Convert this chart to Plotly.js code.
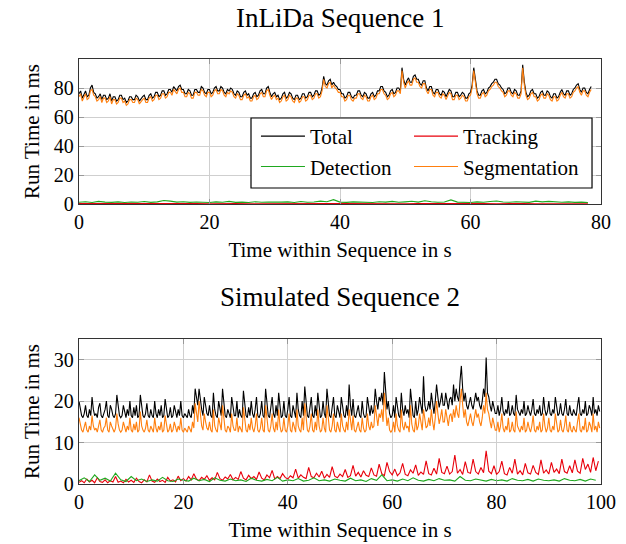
<!DOCTYPE html>
<html>
<head>
<meta charset="utf-8">
<script src="https://cdn.plot.ly/plotly-3.0.1.min.js"></script>
<style>html,body{margin:0;padding:0;background:#fff;}#chart{width:626px;height:544px;}</style>
</head>
<body>
<div id="chart"></div>
<script>
// ---------- Data: InLiDa Sequence 1 (top) ----------
const seq1Step = 0.25;   // s between samples of total / segmentation
const seq1Total = [
 76,78,73,75,78,74,75,80,82,77,76,73,74,76,72,75,75,72,73,76,
 71,74,74,71,72,75,75,72,73,70,71,74,74,72,72,75,74,71,73,74,
 75,72,72,75,76,73,74,77,77,74,75,78,78,75,76,79,79,77,81,79,
 78,81,82,79,79,76,76,79,78,75,75,79,79,77,77,81,80,77,76,79,
 79,76,77,80,81,78,78,81,80,77,76,79,78,80,79,76,75,78,77,74,
 74,77,78,75,76,73,73,76,77,74,75,78,79,76,76,80,81,77,74,76,
 77,74,75,72,73,76,77,73,74,77,76,73,72,75,75,72,73,76,76,73,
 74,77,77,74,75,78,78,75,76,80,88,83,82,85,86,82,84,82,81,79,
 79,76,76,73,74,77,77,74,73,75,75,78,78,75,74,77,76,73,73,76,
 77,74,75,78,78,81,81,78,77,74,75,78,79,76,77,80,80,78,94,86,
 82,85,87,84,84,88,89,86,86,83,82,85,85,80,78,81,81,77,76,79,
 79,76,75,78,77,74,76,79,78,74,74,77,77,74,75,77,76,73,73,76,
 77,82,94,84,78,75,75,78,79,76,77,80,81,83,84,86,86,83,82,80,
 79,76,77,80,80,77,76,79,78,75,75,78,96,84,77,74,75,78,79,76,
 76,73,74,77,78,75,75,78,77,74,73,76,76,73,74,77,79,76,75,78,
 78,75,76,79,80,82,83,79,77,80,80,77,76,79,81];
const seq1Segmentation = [
 74,76,71,73,76,72,73,78,79,75,74,71,72,74,70,73,73,70,71,74,
 69,72,72,69,70,73,73,70,71,68,69,72,72,70,70,73,72,69,71,72,
 73,70,70,73,74,71,72,75,75,72,73,76,76,73,74,77,77,75,79,77,
 76,79,80,77,77,74,74,77,76,73,73,77,77,75,75,79,78,75,74,77,
 77,74,75,78,79,76,76,79,78,75,74,77,76,78,77,74,73,76,75,72,
 72,75,76,73,74,71,71,74,75,72,73,76,77,74,74,78,79,75,72,74,
 75,72,73,70,71,74,75,71,72,75,74,71,70,73,73,70,71,74,74,71,
 72,75,75,72,73,76,76,73,74,78,86,81,80,83,84,80,82,80,79,77,
 77,74,74,71,72,75,75,72,71,73,73,76,76,73,72,75,74,71,71,74,
 75,72,73,76,76,79,79,76,75,72,73,76,77,74,75,78,78,76,92,84,
 80,83,85,82,82,86,87,84,84,81,80,83,83,78,76,79,79,75,74,77,
 77,74,73,76,75,72,74,77,76,72,72,75,75,72,73,75,74,71,71,74,
 75,80,92,82,76,73,73,76,77,74,75,78,79,81,82,84,84,81,80,78,
 77,74,75,78,78,75,74,77,76,73,73,76,94,82,75,72,73,76,77,74,
 74,71,72,75,76,73,73,76,75,72,71,74,74,71,72,75,77,74,73,76,
 76,73,74,77,78,80,81,77,75,78,78,75,74,77,79];
const seq1DetStep = 1;
const seq1Detection = [1.2,1.6,1.0,1.8,1.3,1.1,1.5,1.0,1.4,1.2,1.7,1.1,1.5,2.4,2.0,1.3,1.6,1.1,1.4,1.2,
 1.0,1.5,1.2,1.8,1.1,1.3,1.0,1.6,1.2,1.4,1.1,1.3,1.5,1.0,1.7,1.2,1.4,2.0,1.6,3.0,
 1.3,1.1,1.5,1.2,1.4,1.0,1.6,1.3,1.8,1.2,1.5,1.9,1.3,2.2,1.6,1.2,1.4,2.8,1.3,1.1,
 1.0,1.5,1.2,1.7,2.1,1.4,1.2,1.6,1.3,1.1,2.0,1.5,1.8,1.3,1.2,1.5,1.1,1.3,1.0];
const seq1TrkStep = 2;
const seq1Tracking = [0.3,0.2,0.4,0.3,0.2,0.3,0.4,0.2,0.3,0.3,0.2,0.4,0.3,0.2,0.3,0.4,0.3,0.2,0.3,0.4,
 0.3,0.2,0.3,0.3,0.4,0.2,0.3,0.4,0.3,0.2,0.3,0.3,0.2,0.4,0.3,0.2,0.3,0.4,0.3,0.2];

// ---------- Data: Simulated Sequence 2 (bottom) ----------
const seq2Step = 0.25;  // s between samples of total / segmentation
const seq2Total = [
 20,18,16.5,16,17,19,16.5,16,18,16.5,21,18,16.5,17,16,18.5,19.5,16.5,16,17,
 18,20,16.5,16,19,18,16.5,16,17,21.5,18.5,16.5,16,16.5,19,17,16,18,16.5,20,
 16.5,16,18.5,16.5,19,16,16.5,21.5,18,16.5,16,17,19.5,16.5,16,18,16.5,16,20,17,
 16,18,16.5,19,16,16.5,20.5,18,16,16.5,18.5,16,16.5,19,17,16,18,16.5,20,16.5,
 16,17,16.5,16,18,16.5,16,19,17,23,21,19,23,20,18,16.5,21,19,17,16.5,
 19,16.5,16,22,18,16.5,16,20,18.5,16.5,23,19,16.5,16,18,17,16,21,18,16.5,
 16.5,20,16,18,16.5,16,22.5,19,16.5,16,18.5,16.5,20,17,16,18,21,16.5,16,17,
 20,16.5,16,23,19,16.5,16,18,21,17,16,19,16.5,22,18,16,16.5,20,16.5,16,
 18,21,16.5,16,19,17,16,22,18,16.5,16,20,16.5,23.5,19,16.5,16,18,21,16.5,
 16,19,16.5,22,18,16,16.5,20,17,16,23,19,16.5,16,18,21,16.5,16,19,17,
 16,21,18,16.5,16,19,16.5,24,19,16.5,20.5,16.5,16,18,19,16.5,16,20,17,16,
 16.5,21,18,16.5,19,17,18,23,20,18,21,20,22,19,27,22,18,20,17,16,
 16.5,19,16,21,18,16.5,16,22,18,16.5,19,17,18,16,23,18.5,16.5,16,20,16.5,
 18,21,19,17,26,19,17.5,18,20,18,22,19,17,20,24,21,18.5,20,22,19,
 19,22,20,18,20.5,21,19,24,20,23,21,20,25,28.5,23,20,22,19,18,20,
 21,19,18,20,22,20,21,19,18,20,23,21,30.5,22,21,19,17.5,20,18,17,
 17,19,16.5,18,21,17.5,16.5,18,17,20,16.5,17,19,17,16.5,21.5,18,17,16.5,18,
 17,20,16.5,17,19,17.5,16.5,18,20.5,17,16.5,18,17,19,16.5,17,21,18,16.5,17.5,
 20,17,16.5,18,17,21,18,16.5,17,19.5,17,16.5,18,20.5,17,16.5,19,17,16.5,18,
 17,16.5,19,21,17,16.5,18,17,20,16.5,17,19,18,16.5,21,17,18,16.5,19,17.5];
const seq2Segmentation = [
 16,14,13,12.5,13.5,15,13,12.5,14,13,16.5,14,13,13.5,12.5,14.5,15.5,13,12.5,13.5,
 14,16,13,12.5,15,14,13,12.5,13.5,17,14.5,13,12.5,13,15,13.5,12.5,14,13,16,
 13,12.5,14.5,13,15,12.5,13,17.5,14,13,12.5,13.5,15.5,13,12.5,14,13,12.5,16,13.5,
 12.5,14,13,15,12.5,13,16.5,14,12.5,13,14.5,12.5,13,15,13.5,12.5,14,13,16,13,
 12.5,13.5,13,12.5,14,13,12.5,15,13.5,19.5,17,15,20,16,14,13,17,15,13.5,13,
 15,13,12.5,18,14,13,12.5,16,14.5,13,19,15,13,12.5,14,13.5,12.5,17,14,13,
 13,16,12.5,14,13,12.5,18.5,15,13,12.5,14.5,13,16,13.5,12.5,14,17,13,12.5,13.5,
 16,13,12.5,19,15,13,12.5,14,17,13.5,12.5,15,13,18,14,12.5,13,16,13,12.5,
 14,17,13,12.5,15,13.5,12.5,18,14,13,12.5,16,13,19.5,15,13,12.5,14,17,13,
 12.5,15,13,18,14,12.5,13,16,13.5,12.5,19,15,13,12.5,14,17,13,12.5,15,13.5,
 12.5,17,14,13,12.5,15,13,18,15,13,16.5,13,12.5,14,15,13,12.5,16,13.5,12.5,
 13,17,14,13,15,13.5,14,19,16,14,17,16,18,15,22,17,14,16,13,12.5,
 13,15,12.5,17,14,13,12.5,18,14,13,15,13.5,14,12.5,19,14.5,13,12.5,16,13,
 14,17,15,13,18,15,13.5,14,16,14,18,15,13,16,20,17,14.5,16,18,15,
 15,18,16,14,16.5,17,15,18,16,19,17,16,20,23,19,16,18,15,14,16,
 17,15,14,16,18,16,17,15,14,16,19,17,22,18,17,15,13.5,16,14,13,
 13,15,12.5,14,17,13.5,12.5,14,13,16,12.5,13,15,13,12.5,17.5,14,13,12.5,14,
 13,16,12.5,13,15,13.5,12.5,14,16.5,13,12.5,14,13,15,12.5,13,17,14,12.5,13.5,
 16,13,12.5,14,13,17,14,12.5,13,15.5,13,12.5,14,16.5,13,12.5,15,13,12.5,14,
 13,12.5,15,17,13,12.5,14,13,16,12.5,13,15,14,12.5,17,13,14,12.5,15,13.5];
const seq2TrkStep = 0.5;
const seq2Tracking = [0.4,0.8,0.3,1.2,0.5,0.9,0.3,1.5,0.6,0.4,1.0,0.3,0.8,0.5,1.8,0.4,0.7,0.3,1.1,0.5,
 0.9,0.4,1.4,0.6,0.3,1.0,0.5,2.2,0.7,0.4,1.2,0.6,0.9,0.4,1.6,0.7,1.0,0.5,1.9,0.8,
 1.3,0.7,1.8,1.0,2.5,1.2,0.8,1.6,1.1,2.0,0.9,1.5,1.0,2.8,1.3,0.9,1.7,1.2,2.3,1.0,
 1.6,1.1,3.0,1.4,1.0,2.1,1.3,1.8,1.1,2.9,1.4,1.0,2.2,1.5,3.3,1.2,1.8,1.3,2.5,1.6,
 1.2,2.0,1.5,3.6,1.4,2.2,1.6,1.3,4.0,1.8,1.5,2.6,1.7,3.1,1.4,2.3,1.6,4.2,1.9,1.5,
 2.4,1.8,3.5,1.6,2.0,4.5,1.9,2.8,1.7,3.2,2.1,1.8,3.9,2.2,1.9,4.8,2.5,2.0,5.2,3.0,
 2.2,3.6,2.0,2.7,5.0,2.3,2.0,3.4,2.6,4.6,2.1,2.9,2.3,5.6,2.5,2.2,3.8,2.4,6.2,2.8,
 2.5,4.3,2.4,3.0,7.0,2.6,3.5,2.3,5.4,2.8,2.6,6.0,3.0,2.4,4.0,2.7,8.0,3.1,2.5,4.4,
 2.3,3.0,5.5,2.5,2.2,4.0,2.6,6.0,2.4,3.2,2.2,5.0,2.7,2.4,4.5,2.8,2.3,5.8,2.6,3.4,
 2.4,5.2,2.8,3.6,2.5,6.0,3.0,2.6,4.4,2.7,5.8,3.1,2.6,6.2,3.5,4.8,2.8,6.4,3.2,5.5];
const seq2DetStep = 1;
const seq2Detection = [0.8,1.5,0.6,2.2,0.9,1.4,0.7,2.6,1.0,0.6,1.8,0.8,1.2,0.6,1.0,0.7,1.6,0.8,0.6,1.2,
 0.9,0.7,1.4,0.8,1.1,0.6,1.5,0.9,0.7,1.2,0.8,1.0,0.6,1.4,0.9,0.7,1.1,0.8,1.6,0.7,
 1.0,0.8,1.3,0.7,0.9,1.5,0.8,1.0,0.7,1.2,0.9,0.7,1.4,0.8,1.0,0.6,1.3,0.9,2.2,0.8,
 1.0,0.7,1.2,0.8,1.5,0.9,0.7,1.1,0.8,1.3,0.9,1.0,0.7,1.8,0.9,0.8,1.2,1.0,0.7,1.1,
 0.8,1.0,0.7,1.3,0.9,0.8,1.1,0.7,1.2,0.9,0.8,1.0,0.7,1.3,0.9,0.8,1.1,0.7,1.2,0.9];

const seriesNames = ['Total','Tracking','Detection','Segmentation'];
const titles = ['InLiDa Sequence 1','Simulated Sequence 2'];
const xTitle = 'Time within Sequence in s';
const yTitle = 'Run Time in ms';
const seq1YTicks = [0,20,40,60,80];
const seq2YTicks = [0,10,20,30];
const xTicks = [0,20,40,60,80,100];

// ---------- helpers ----------
const times = (arr, step) => arr.map((_, i) => i * step);
const colors = {Total:'#000000', Tracking:'#e8000b', Detection:'#1fa81f', Segmentation:'#ff7f0e'};
const FONT = '"Liberation Serif", "Times New Roman", serif';

function trace(name, x, y, xa, ya, show, leg) {
  return {type:'scatter', mode:'lines', name:name, x:x, y:y, xaxis:xa, yaxis:ya,
          showlegend:show, legend:leg,
          line:{color:colors[name], width:1.1}, hoverinfo:'skip'};
}

// left legend column: Total, Detection ; right column: Tracking, Segmentation
const data = [
  trace('Total', times(seq1Total, seq1Step), seq1Total, 'x', 'y', true, 'legend'),
  trace('Tracking', times(seq1Tracking, seq1TrkStep), seq1Tracking, 'x', 'y', true, 'legend2'),
  trace('Detection', times(seq1Detection, seq1DetStep), seq1Detection, 'x', 'y', true, 'legend'),
  trace('Segmentation', times(seq1Segmentation, seq1Step), seq1Segmentation, 'x', 'y', true, 'legend2'),
  trace('Total', times(seq2Total, seq2Step), seq2Total, 'x2', 'y2', false, 'legend'),
  trace('Tracking', times(seq2Tracking, seq2TrkStep), seq2Tracking, 'x2', 'y2', false, 'legend2'),
  trace('Detection', times(seq2Detection, seq2DetStep), seq2Detection, 'x2', 'y2', false, 'legend'),
  trace('Segmentation', times(seq2Segmentation, seq2Step), seq2Segmentation, 'x2', 'y2', false, 'legend2')
];

const axBase = {
  showline:true, linecolor:'#333', linewidth:1.2, mirror:'ticks',
  ticks:'inside', ticklen:5, tickcolor:'#999', tickwidth:1,
  showgrid:true, gridcolor:'#cfcfcf', gridwidth:1, zeroline:false,
  tickfont:{family:FONT, size:20, color:'#000'}, automargin:false
};
const axTitleFont = {family:FONT, size:21, color:'#000'};

const legBase = {orientation:'v', xanchor:'left', yanchor:'middle', y:0.7824,
  bgcolor:'rgba(0,0,0,0)', borderwidth:0, itemwidth:44, tracegroupgap:0,
  font:{family:FONT, size:21, color:'#000'}, traceorder:'normal'};

const layout = {
  width:626, height:544,
  paper_bgcolor:'#fff', plot_bgcolor:'#fff',
  margin:{l:79, r:25, t:59, b:60, autoexpand:false},
  font:{family:FONT, color:'#000'},
  showlegend:true,
  xaxis: Object.assign({}, axBase, {domain:[0,1], anchor:'y', range:[0,80], tickvals:xTicks.slice(0,5),
     title:{text:xTitle, font:axTitleFont, standoff:10}}),
  yaxis: Object.assign({}, axBase, {domain:[0.6588,1], anchor:'x', range:[0,100], tickvals:seq1YTicks,
     title:{text:yTitle, font:axTitleFont, standoff:8}}),
  xaxis2: Object.assign({}, axBase, {domain:[0,1], anchor:'y2', range:[0,100], tickvals:xTicks,
     title:{text:xTitle, font:axTitleFont, standoff:10}}),
  yaxis2: Object.assign({}, axBase, {domain:[0,0.3412], anchor:'x2', range:[0,35], tickvals:seq2YTicks,
     title:{text:yTitle, font:axTitleFont, standoff:8}}),
  legend: Object.assign({}, legBase, {x:0.339}),
  legend2: Object.assign({}, legBase, {x:0.6322}),
  shapes:[
    {type:'rect', xref:'paper', yref:'paper', x0:0.3295, x1:0.9828, y0:0.6965, y1:0.8612,
     fillcolor:'#fff', line:{color:'#000', width:1.2}, layer:'above'}
  ],
  annotations:[
    {text:titles[0], xref:'paper', yref:'paper', x:0.5, y:1.0965, xanchor:'center', yanchor:'middle',
     showarrow:false, font:{family:FONT, size:27, color:'#000'}},
    {text:titles[1], xref:'paper', yref:'paper', x:0.5, y:0.44, xanchor:'center', yanchor:'middle',
     showarrow:false, font:{family:FONT, size:27, color:'#000'}}
  ]
};

Plotly.newPlot('chart', data, layout, {staticPlot:true, displayModeBar:false});
</script>
</body>
</html>
